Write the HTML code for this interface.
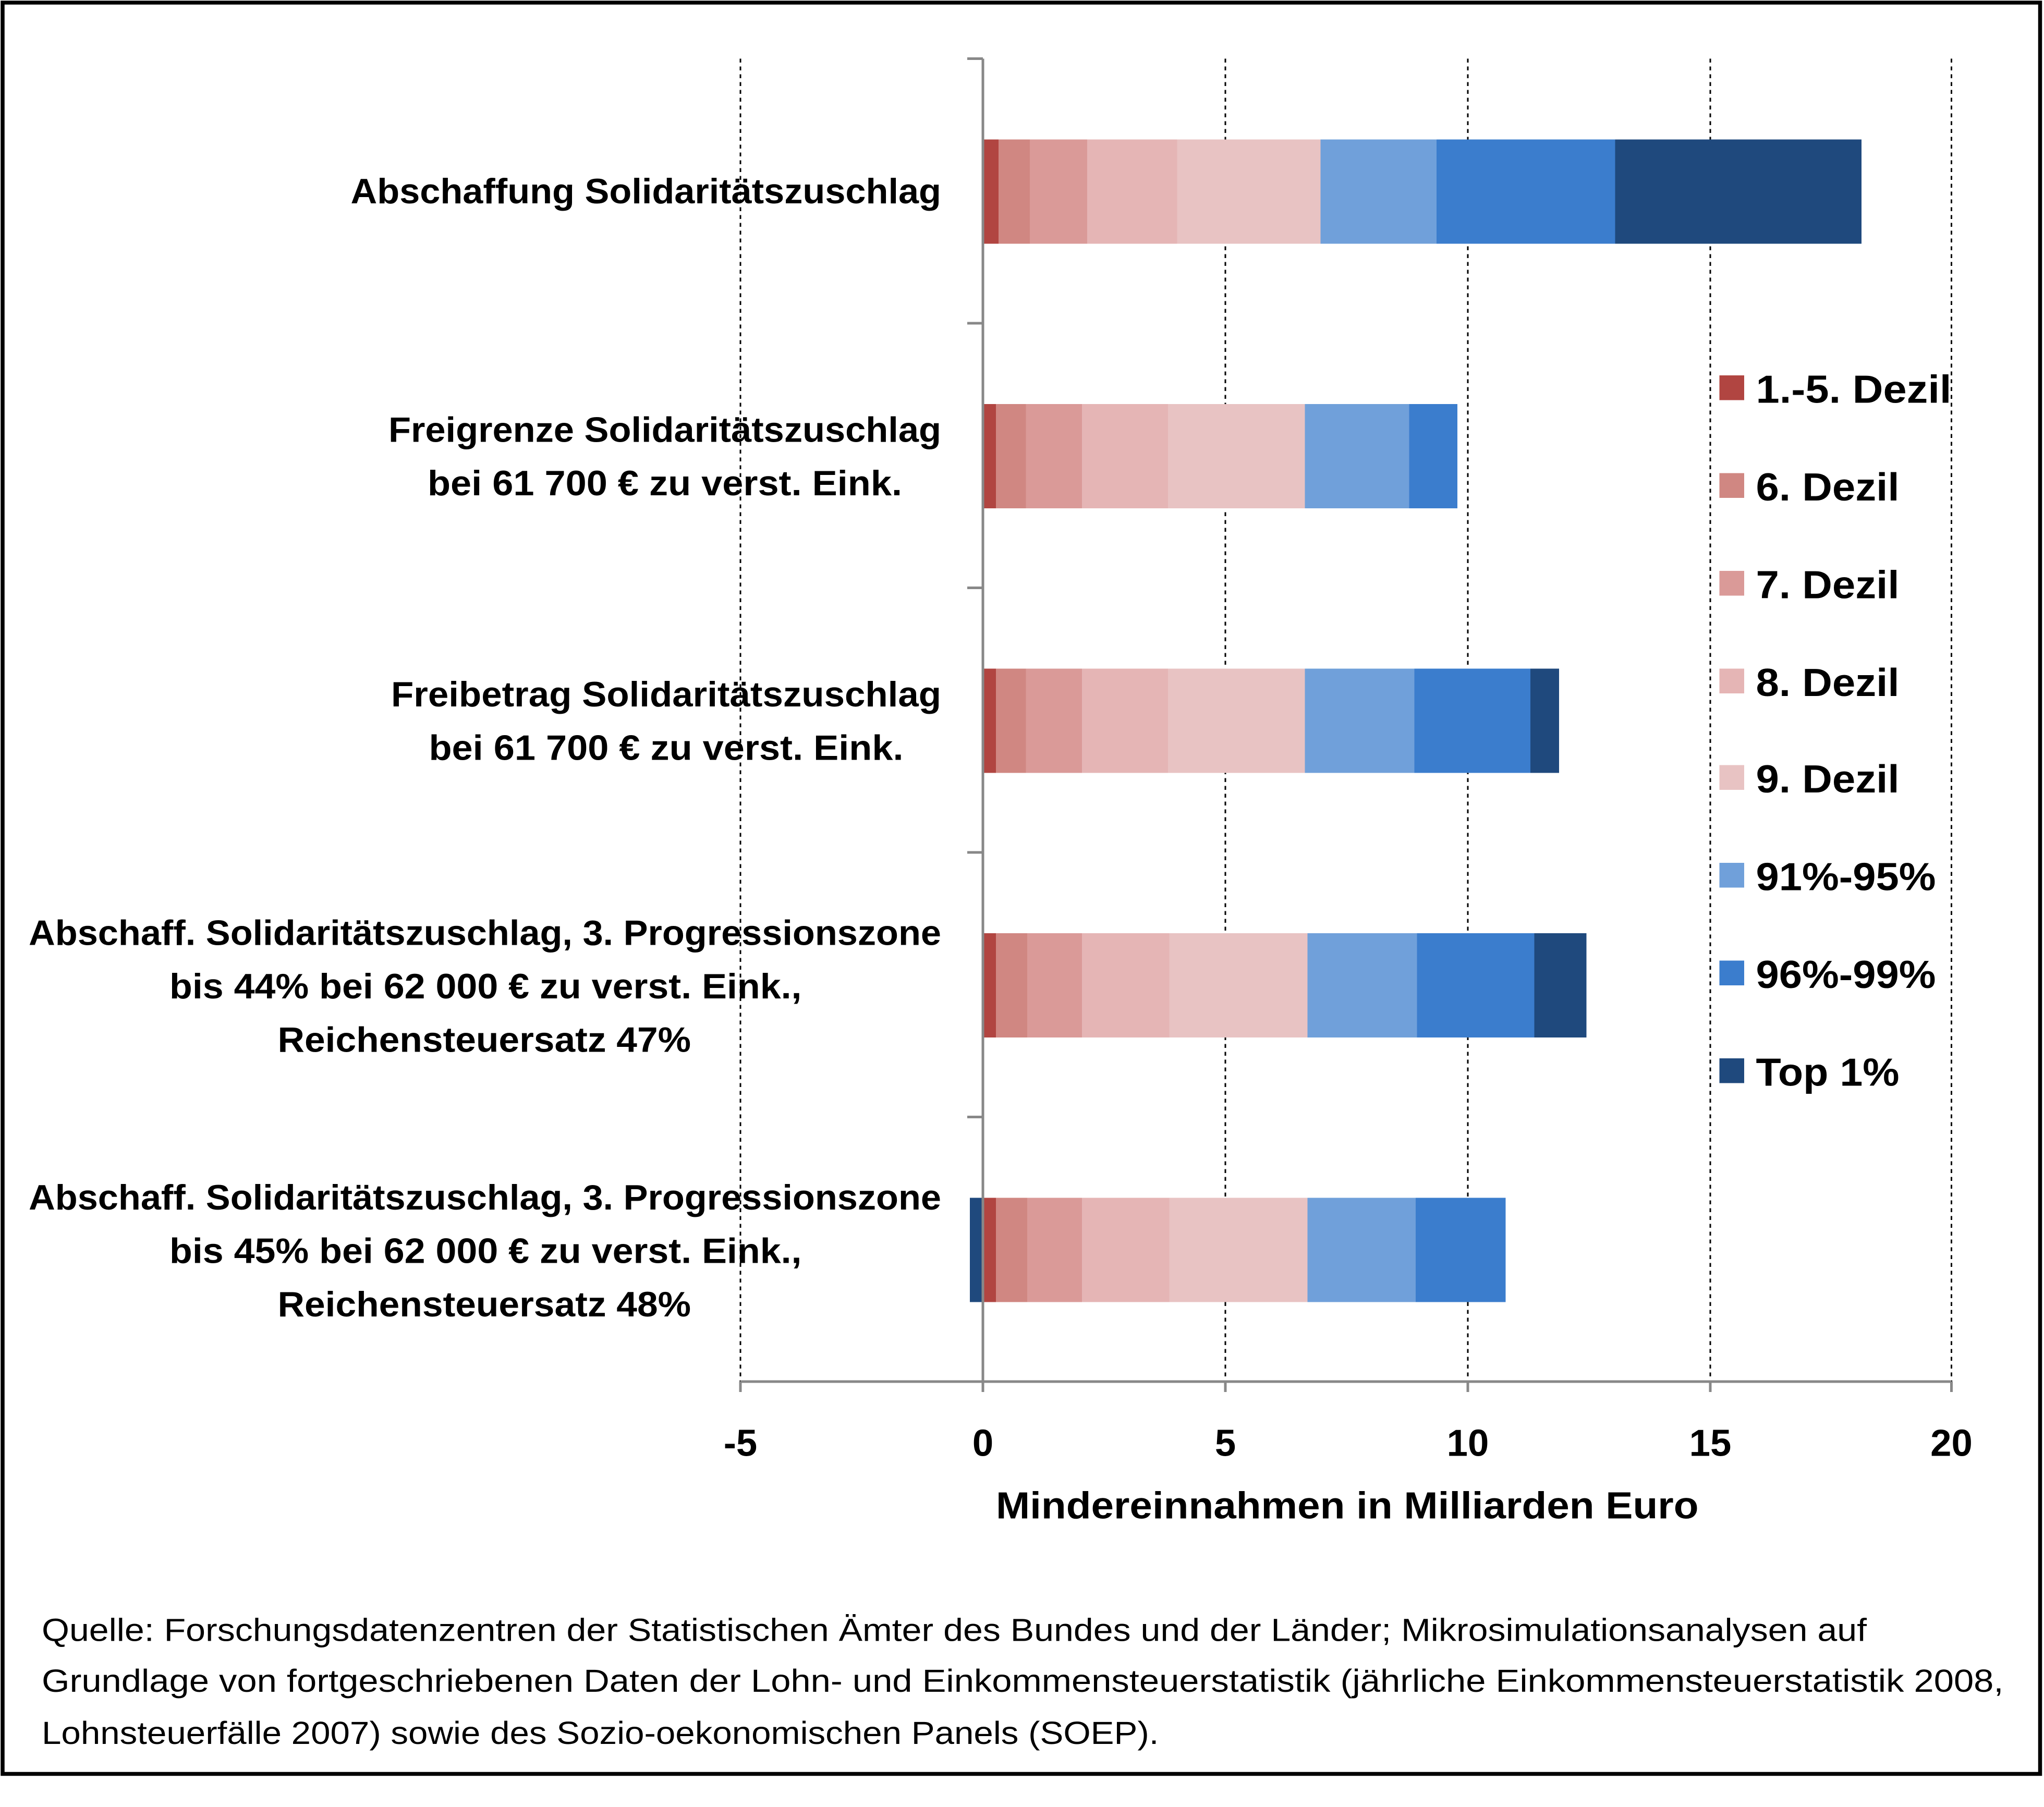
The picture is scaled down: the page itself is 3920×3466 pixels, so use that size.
<!DOCTYPE html>
<html><head><meta charset="utf-8"><style>html,body{margin:0;padding:0;background:#fff}svg{display:block}</style></head>
<body>
<svg xmlns="http://www.w3.org/2000/svg" width="3920" height="3466" viewBox="0 0 1568 1386.4" font-family="'Liberation Sans', sans-serif">
<rect x="0" y="0" width="1568" height="1386.4" fill="#fff"/>
<rect x="2" y="2" width="1563" height="1359" fill="none" stroke="#000" stroke-width="3"/>
<g stroke="#000" stroke-width="1.2" stroke-dasharray="3,3">
<line x1="568" y1="45" x2="568" y2="1060"/>
<line x1="940" y1="45" x2="940" y2="1060"/>
<line x1="1126" y1="45" x2="1126" y2="1060"/>
<line x1="1312" y1="45" x2="1312" y2="1060"/>
<line x1="1497" y1="45" x2="1497" y2="1060"/>
</g>
<g stroke="#888" stroke-width="2">
<line x1="568" y1="1060" x2="1497" y2="1060"/>
<line x1="568" y1="1060" x2="568" y2="1068"/><line x1="754" y1="1060" x2="754" y2="1068"/><line x1="940" y1="1060" x2="940" y2="1068"/><line x1="1126" y1="1060" x2="1126" y2="1068"/><line x1="1312" y1="1060" x2="1312" y2="1068"/><line x1="1497" y1="1060" x2="1497" y2="1068"/>
<line x1="742" y1="45" x2="754" y2="45"/><line x1="742" y1="248" x2="754" y2="248"/><line x1="742" y1="451" x2="754" y2="451"/><line x1="742" y1="654" x2="754" y2="654"/><line x1="742" y1="857" x2="754" y2="857"/><line x1="742" y1="1060" x2="754" y2="1060"/>
</g>
<g>
<rect x="754" y="107" width="12" height="80" fill="#B14541"/><rect x="766" y="107" width="24" height="80" fill="#D08782"/><rect x="790" y="107" width="44" height="80" fill="#DA9A98"/><rect x="834" y="107" width="69" height="80" fill="#E5B5B5"/><rect x="903" y="107" width="110" height="80" fill="#E8C3C3"/><rect x="1013" y="107" width="89" height="80" fill="#70A0DA"/><rect x="1102" y="107" width="137" height="80" fill="#3B7DCD"/><rect x="1239" y="107" width="189" height="80" fill="#1F497D"/>

<rect x="754" y="310" width="10" height="80" fill="#B14541"/><rect x="764" y="310" width="23" height="80" fill="#D08782"/><rect x="787" y="310" width="43" height="80" fill="#DA9A98"/><rect x="830" y="310" width="66" height="80" fill="#E5B5B5"/><rect x="896" y="310" width="105" height="80" fill="#E8C3C3"/><rect x="1001" y="310" width="80" height="80" fill="#70A0DA"/><rect x="1081" y="310" width="37" height="80" fill="#3B7DCD"/>

<rect x="754" y="513" width="10" height="80" fill="#B14541"/><rect x="764" y="513" width="23" height="80" fill="#D08782"/><rect x="787" y="513" width="43" height="80" fill="#DA9A98"/><rect x="830" y="513" width="66" height="80" fill="#E5B5B5"/><rect x="896" y="513" width="105" height="80" fill="#E8C3C3"/><rect x="1001" y="513" width="84" height="80" fill="#70A0DA"/><rect x="1085" y="513" width="89" height="80" fill="#3B7DCD"/><rect x="1174" y="513" width="22" height="80" fill="#1F497D"/>

<rect x="754" y="716" width="10" height="80" fill="#B14541"/><rect x="764" y="716" width="24" height="80" fill="#D08782"/><rect x="788" y="716" width="42" height="80" fill="#DA9A98"/><rect x="830" y="716" width="67" height="80" fill="#E5B5B5"/><rect x="897" y="716" width="106" height="80" fill="#E8C3C3"/><rect x="1003" y="716" width="84" height="80" fill="#70A0DA"/><rect x="1087" y="716" width="90" height="80" fill="#3B7DCD"/><rect x="1177" y="716" width="40" height="80" fill="#1F497D"/>

<rect x="744" y="919" width="10" height="80" fill="#1F497D"/><rect x="754" y="919" width="10" height="80" fill="#B14541"/><rect x="764" y="919" width="24" height="80" fill="#D08782"/><rect x="788" y="919" width="42" height="80" fill="#DA9A98"/><rect x="830" y="919" width="67" height="80" fill="#E5B5B5"/><rect x="897" y="919" width="106" height="80" fill="#E8C3C3"/><rect x="1003" y="919" width="83" height="80" fill="#70A0DA"/><rect x="1086" y="919" width="69" height="80" fill="#3B7DCD"/>
</g>
<line x1="754" y1="45" x2="754" y2="1060" stroke="#888" stroke-width="2"/>
<g font-weight="bold" font-size="27" fill="#000" lengthAdjust="spacingAndGlyphs">
<text x="269" y="156" textLength="453" lengthAdjust="spacingAndGlyphs">Abschaffung Solidaritätszuschlag</text>
<text x="298" y="339" textLength="424" lengthAdjust="spacingAndGlyphs">Freigrenze Solidaritätszuschlag</text>
<text x="328" y="380" textLength="364" lengthAdjust="spacingAndGlyphs">bei 61 700 € zu verst. Eink.</text>
<text x="300" y="542" textLength="422" lengthAdjust="spacingAndGlyphs">Freibetrag Solidaritätszuschlag</text>
<text x="329" y="583" textLength="364" lengthAdjust="spacingAndGlyphs">bei 61 700 € zu verst. Eink.</text>
<text x="22" y="725" textLength="700" lengthAdjust="spacingAndGlyphs">Abschaff. Solidaritätszuschlag, 3. Progressionszone</text>
<text x="130" y="766" textLength="485" lengthAdjust="spacingAndGlyphs">bis 44% bei 62 000 € zu verst. Eink.,</text>
<text x="213" y="807" textLength="317" lengthAdjust="spacingAndGlyphs">Reichensteuersatz 47%</text>
<text x="22" y="928" textLength="700" lengthAdjust="spacingAndGlyphs">Abschaff. Solidaritätszuschlag, 3. Progressionszone</text>
<text x="130" y="969" textLength="485" lengthAdjust="spacingAndGlyphs">bis 45% bei 62 000 € zu verst. Eink.,</text>
<text x="213" y="1010" textLength="317" lengthAdjust="spacingAndGlyphs">Reichensteuersatz 48%</text>
</g>
<g font-weight="bold" font-size="29" text-anchor="middle">
<text x="568" y="1117">-5</text><text x="754" y="1117">0</text><text x="940" y="1117">5</text><text x="1126" y="1117">10</text><text x="1312" y="1117">15</text><text x="1497" y="1117">20</text>
</g>
<text x="764" y="1165" font-weight="bold" font-size="29" textLength="539" lengthAdjust="spacingAndGlyphs">Mindereinnahmen in Milliarden Euro</text>
<g font-weight="bold" font-size="30">
<rect x="1319" y="288" width="19" height="19" fill="#B14541"/><text x="1347" y="309" textLength="150" lengthAdjust="spacingAndGlyphs">1.-5. Dezil</text>
<rect x="1319" y="363" width="19" height="19" fill="#D08782"/><text x="1347" y="384" textLength="110" lengthAdjust="spacingAndGlyphs">6. Dezil</text>
<rect x="1319" y="438" width="19" height="19" fill="#DA9A98"/><text x="1347" y="459" textLength="110" lengthAdjust="spacingAndGlyphs">7. Dezil</text>
<rect x="1319" y="513" width="19" height="19" fill="#E5B5B5"/><text x="1347" y="534" textLength="110" lengthAdjust="spacingAndGlyphs">8. Dezil</text>
<rect x="1319" y="587" width="19" height="19" fill="#E8C3C3"/><text x="1347" y="608" textLength="110" lengthAdjust="spacingAndGlyphs">9. Dezil</text>
<rect x="1319" y="662" width="19" height="19" fill="#70A0DA"/><text x="1347" y="683" textLength="138" lengthAdjust="spacingAndGlyphs">91%-95%</text>
<rect x="1319" y="737" width="19" height="19" fill="#3B7DCD"/><text x="1347" y="758" textLength="138" lengthAdjust="spacingAndGlyphs">96%-99%</text>
<rect x="1319" y="812" width="19" height="19" fill="#1F497D"/><text x="1347" y="833" textLength="110" lengthAdjust="spacingAndGlyphs">Top 1%</text>
</g>
<g font-size="24.5">
<text x="32" y="1259" textLength="1400" lengthAdjust="spacingAndGlyphs">Quelle: Forschungsdatenzentren der Statistischen Ämter des Bundes und der Länder; Mikrosimulationsanalysen auf</text>
<text x="32" y="1298" textLength="1505" lengthAdjust="spacingAndGlyphs">Grundlage von fortgeschriebenen Daten der Lohn- und Einkommensteuerstatistik (jährliche Einkommensteuerstatistik 2008,</text>
<text x="32" y="1338" textLength="857" lengthAdjust="spacingAndGlyphs">Lohnsteuerfälle 2007) sowie des Sozio-oekonomischen Panels (SOEP).</text>
</g>
</svg>
</body></html>
